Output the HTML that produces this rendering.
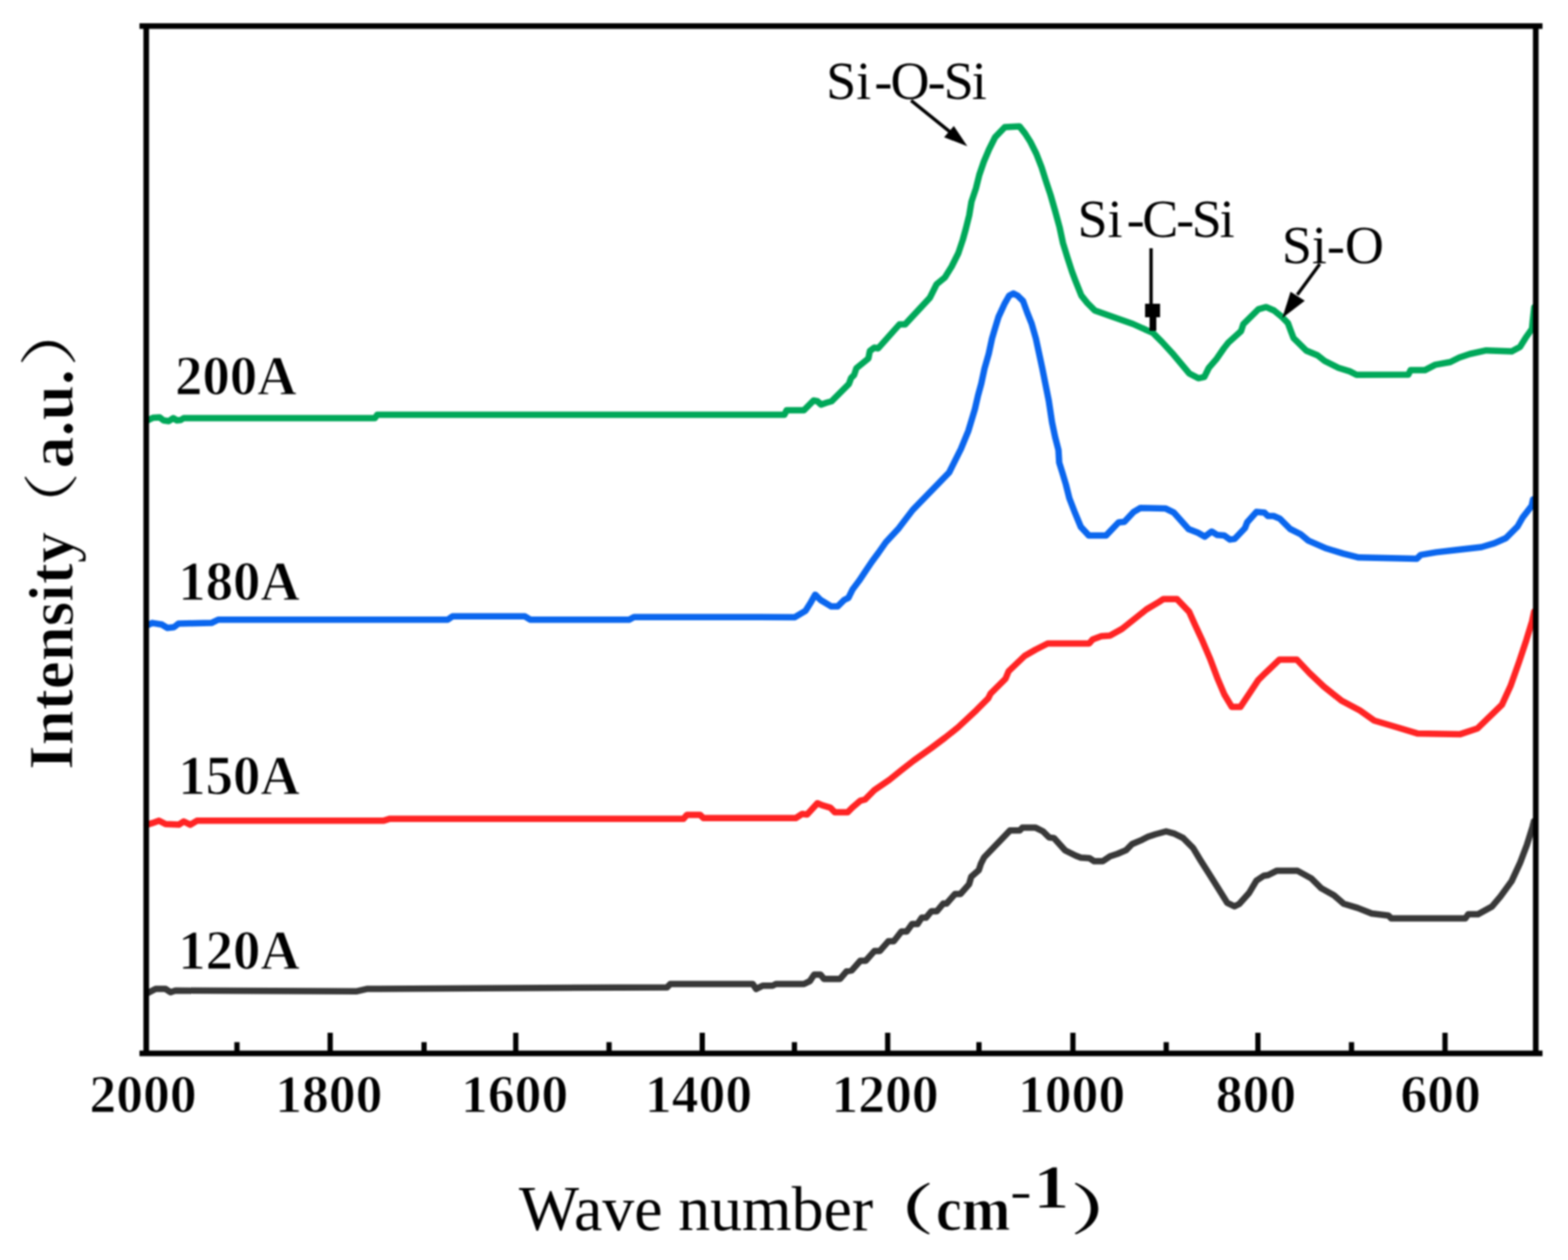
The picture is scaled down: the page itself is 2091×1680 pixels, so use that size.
<!DOCTYPE html>
<html><head><meta charset="utf-8"><title>FTIR spectra</title>
<style>
html,body{margin:0;padding:0;background:#fff;}
svg{display:block;}
#wrap{filter:blur(1px);width:2091px;height:1680px;}
.er{stroke:#fff;stroke-width:1.2px;}
.serif{font-family:"Liberation Serif","Noto Serif CJK SC",serif;}
.cjk{font-family:"Noto Serif CJK SC","Noto Sans CJK SC",serif;}
</style></head>
<body>
<div id="wrap">
<svg width="2091" height="1680" viewBox="0 0 2091 1680">
<rect width="2091" height="1680" fill="#fff"/>
<g fill="none" stroke-linejoin="round" stroke-linecap="round" stroke-width="8.5">
<polyline stroke="#383838" points="196.6,1324.3 207.6,1318.6 220.8,1318.6 227.4,1323 234,1320.8 476,1321.7 489.2,1318.6 889.5,1316.4 893.9,1312 1003.9,1312 1008.3,1318.6 1017.1,1314.2 1030.3,1314.2 1034.7,1312 1072.1,1312 1080,1308.1 1085.7,1299.5 1094.3,1299.5 1098.7,1305.2 1120.2,1305.2 1128.8,1295.2 1136,1293.8 1147.4,1280.9 1154.6,1280.9 1166.1,1268 1173.3,1268 1184.7,1255 1191.9,1255 1202,1242.1 1209.1,1242.1 1216.3,1232.1 1223.5,1232.1 1229.2,1223.5 1235,1223.5 1242.1,1214.9 1249.3,1214.9 1257.9,1204.8 1262.2,1204.8 1273.7,1191.9 1280.9,1191.9 1292.3,1179 1295.2,1169 1305.2,1160.3 1308.1,1151.7 1312.4,1143.1 1346.9,1107.3 1359.8,1107.3 1363.3,1103.6 1381.1,1103.6 1390.9,1108.5 1399,1116.6 1405.5,1117.4 1420.2,1133.7 1434.8,1141 1441.3,1143.4 1452.7,1144.2 1459.2,1148.3 1470.6,1148.3 1480.3,1141.8 1490.1,1138.5 1501.5,1133.7 1509.6,1125.5 1521,1120.7 1530.7,1115.8 1540.5,1112.5 1555.1,1108.5 1566.5,1111.7 1577.9,1117.4 1590.9,1130.4 1600.7,1146.7 1612,1164.6 1620.2,1177.6 1628.3,1190.6 1636.4,1203.6 1646.2,1208.5 1652.7,1205.2 1665.7,1190.6 1675.4,1174.3 1685.2,1167.8 1691.2,1166.7 1702.4,1161.1 1730.4,1161.1 1749,1171.4 1762.1,1184.4 1778.9,1193.8 1791.9,1205 1810.6,1210.6 1829.2,1218 1851.6,1220.8 1855.3,1224.5 1954.2,1224.5 1957.9,1219 1971,1219 1989.6,1208.7 2000.8,1195.6 2015.7,1175.1 2026.9,1150.9 2036.2,1126.6 2043.7,1102.4 2045.6,1094.9"/>
<polyline stroke="#ff2424" points="196,1099.6 203.2,1097.4 212,1094.3 220.8,1098.7 238.4,1099.6 245,1095.2 253.8,1099.6 262.6,1094.3 511.2,1094.3 520,1091.7 911.5,1091.7 916,1086.4 933.5,1086.4 938,1090.8 1061.1,1090.8 1069.9,1085.2 1076.2,1086.1 1090.1,1071 1096.3,1073.7 1107.2,1076.8 1113.3,1083 1130.4,1083 1136.6,1076.8 1147.4,1067.6 1153.6,1066 1166,1053.6 1186.1,1039.7 1201.6,1027.3 1218.6,1014 1241.8,997.5 1260.4,983.5 1277.4,970 1302.2,946.8 1317.7,931.3 1320.8,925.1 1340.9,905 1345,895 1366.5,874.5 1380.9,866.2 1397.2,858 1452.4,858 1457.3,852.4 1468.7,848.3 1480.1,847.5 1496.3,838.5 1512.6,825.5 1528.9,812.5 1545.1,802.8 1551.6,798.7 1569.5,798.7 1585.8,815.8 1593.9,833.7 1603.7,854.8 1613.4,877.6 1623.2,903.6 1632.9,926.3 1642.7,942.6 1654.1,942.6 1667.1,923.1 1677.7,907.1 1687.2,897.6 1706.3,879.4 1729.3,879.4 1746.5,897.6 1765.6,915.7 1788.6,933.9 1813.5,947.3 1832.6,960.7 1861.3,969.3 1890,977.9 1947.4,978.9 1970.3,971.2 2002.9,939.6 2014.3,914.8 2025.8,882.3 2035.4,853.6 2043,828.7 2045.9,815.3"/>
<polyline stroke="#0a66ee" points="196,834 203,830.6 216,832.8 223,837.2 232,836.3 238,831.5 282,830.6 291,826.2 597,826.2 603.5,821.8 700,821.8 707,826.2 839,826.2 845.5,822.7 1060,822.9 1074.3,814.3 1081.4,802.9 1087.1,792.9 1094.3,800 1108.6,808.6 1117.1,808.6 1125.7,800 1131.4,797.1 1137.1,785.7 1145.7,774.3 1154.3,761.4 1162.9,748.6 1171.4,737.1 1181.4,722.9 1198.6,704.3 1217.1,680 1265.7,630 1271.4,618.6 1281.4,598.6 1291.4,574.3 1300,545.7 1304.3,527.1 1308.6,511.4 1312.9,491.4 1318.6,471.4 1322.9,451.4 1327.1,437.1 1331.4,422.9 1340,404.3 1345.7,394.3 1351.4,391.4 1357.1,394.3 1364.3,401.4 1370,417.1 1375.7,431.4 1381.4,451.4 1385.7,471.4 1390,491.4 1394.3,512.9 1398.6,534.3 1402.9,562.9 1407.1,582.9 1411.5,600 1412.5,616.8 1416.8,630.6 1421.4,645.9 1426,664.3 1433.7,684.2 1441.3,702.5 1452,714 1475,714 1491.8,696.4 1499.5,695.7 1511.7,682.6 1520.9,677.3 1554.6,678.1 1565.3,683.4 1585.2,705.6 1597.4,710.2 1606.6,715.5 1615.8,708.7 1623.4,713.3 1632.6,714 1640.3,719.4 1646.4,718.6 1660.2,704.1 1663.2,696.4 1675.5,682.6 1686.2,683.4 1690.8,688 1698.4,688 1706.9,691.7 1720.7,705.4 1734.4,712.3 1744.8,720.9 1768.9,731.3 1791.3,738.1 1811.9,743.3 1889.4,745 1894.6,739.9 1915.2,736.4 1944.5,733 1975.5,729.5 1992.7,724.4 2008.2,717.5 2023.7,702 2030.6,689.9 2042.6,674.4 2044.4,665.8"/>
<polyline stroke="#00a859" points="196,561 204,557 213,556.5 218,560.5 225,561.5 231,557.5 236,560.5 241,560 245,557.5 500,557.5 503,553 1046,553 1049,547 1072,547 1085,534 1090,535 1095,539.5 1102,537 1109,535 1132,512 1135,504 1139,500 1142,491 1158,478 1160,468 1166,463.5 1171,464.5 1199.5,432.5 1207,432.5 1240,397 1249,379 1260,370 1269,355.5 1278,337.5 1284,319.5 1288,305 1292.5,287 1295.5,269 1301.5,251 1306,233 1312,215.5 1319,199 1327,183 1340,169.5 1359.5,168.5 1367,178 1374,189 1382,205 1389,223 1395,242 1401,260 1407,281 1413,303 1417.5,324 1423.5,343.5 1429.5,362 1434,374 1442,394 1450,404 1460,414 1484,422.6 1511,432 1537.6,444 1549.6,456 1563,470.6 1586,498 1598,504.3 1606,502.7 1612,490.5 1622.6,478.2 1632,464.5 1638,456.8 1655,441.5 1658,432.3 1678,412.4 1688.5,409.4 1699,414 1708.4,421.6 1717.5,430.8 1722,443 1725,450.7 1742,467.5 1757,473.7 1766.5,481.3 1785,490.5 1800,495.1 1809,499.7 1878,499.6 1881,493.6 1900,493.6 1914,486.4 1934,482.8 1946,476.8 1960,472 1982,467.2 2016,468.4 2027,462.4 2034.5,450.4 2043,438.4 2044,427.6 2046,409.6"/>
</g>
<g stroke="#000" stroke-width="7.5" fill="none">
<line x1="186" y1="34.7" x2="2057" y2="34.7"/>
<line x1="186" y1="1404.5" x2="2057" y2="1404.5"/>
<line x1="195" y1="31" x2="195" y2="1408"/>
<line x1="2048" y1="31" x2="2048" y2="1408"/>
</g>
<g stroke="#000" stroke-width="7">
<line x1="440.3" y1="1404.5" x2="440.3" y2="1377"/>
<line x1="687.8" y1="1404.5" x2="687.8" y2="1377"/>
<line x1="936.5" y1="1404.5" x2="936.5" y2="1377"/>
<line x1="1183.8" y1="1404.5" x2="1183.8" y2="1377"/>
<line x1="1430.8" y1="1404.5" x2="1430.8" y2="1377"/>
<line x1="1677.5" y1="1404.5" x2="1677.5" y2="1377"/>
<line x1="1927" y1="1404.5" x2="1927" y2="1377"/>
<line x1="316" y1="1404.5" x2="316" y2="1389.5"/>
<line x1="565.5" y1="1404.5" x2="565.5" y2="1389.5"/>
<line x1="812.2" y1="1404.5" x2="812.2" y2="1389.5"/>
<line x1="1059.4" y1="1404.5" x2="1059.4" y2="1389.5"/>
<line x1="1305.5" y1="1404.5" x2="1305.5" y2="1389.5"/>
<line x1="1555.2" y1="1404.5" x2="1555.2" y2="1389.5"/>
<line x1="1802.3" y1="1404.5" x2="1802.3" y2="1389.5"/>
</g>
<g class="serif er" font-weight="bold" font-size="71.5" fill="#000">
<text x="119.3" y="1482.5">2000</text>
<text x="367.1" y="1482.5">1800</text>
<text x="614.7" y="1482.5">1600</text>
<text x="860.0" y="1482.5">1400</text>
<text x="1108.8" y="1482.5">1200</text>
<text x="1357.6" y="1482.5">1000</text>
<text x="1621.2" y="1482.5">800</text>
<text x="1867.6" y="1482.5">600</text>
</g>
<g class="serif er" font-weight="bold" font-size="73" fill="#000">
<text x="233.4" y="526">200A</text>
<text x="237.7" y="799.5">180A</text>
<text x="237.7" y="1059">150A</text>
<text x="237.7" y="1291.5">120A</text>
</g>
<g class="serif" font-size="72" fill="#000">
<text x="1101.7" y="132">Si</text>
<text x="1166" y="132" letter-spacing="-2.5">-O-Si</text>
<text x="1437" y="316">Si</text>
<text x="1502.4" y="316" letter-spacing="-3">-C-Si</text>
<text x="1709.5" y="351">Si-O</text>
</g>
<!-- arrows -->
<g stroke="#000" stroke-width="4.5" fill="#000">
<line x1="1215" y1="134" x2="1272" y2="180"/>
<polygon stroke="none" points="1290,195 1259,183 1272,168"/>
<line x1="1535" y1="331" x2="1535" y2="410"/>
<polygon stroke="none" points="1527,405 1547,405 1547,423 1542,423 1542,441 1533,441 1533,423 1527,423"/>
<line x1="1760" y1="352" x2="1730" y2="393"/>
<polygon stroke="none" points="1710,424 1721,389 1740,401"/>
</g>
<!-- x axis title -->
<g class="serif" fill="#000">
<text x="692" y="1640" font-size="85">Wave number</text>
<text transform="translate(1146,1638.6) scale(1.0,0.727)" font-size="100" font-weight="bold" class="cjk">（</text>
<text class="er" transform="translate(1248,1640) scale(0.94,1)" font-size="83" font-weight="bold">cm</text>
<text transform="translate(1347.3,1610) scale(1,0.75)" font-size="85">-</text>
<text class="er" transform="translate(1377.8,1609.5) scale(1.18,1)" font-size="82" font-weight="bold">1</text>
<text transform="translate(1427,1638.6) scale(1.05,0.727)" font-size="100" font-weight="bold" class="cjk">）</text>
</g>
<!-- y axis title (rotated) -->
<g transform="translate(97,1026.5) rotate(-90)" class="serif" fill="#000">
<text class="er" x="0" y="0" font-size="84" font-weight="bold">Intensity</text>
<text transform="translate(305.6,-2.4) scale(0.915,0.74)" font-size="100" class="cjk">（</text>
<text class="er" x="402" y="0" font-size="85" font-weight="bold">a.u.</text>
<text transform="translate(537,-2.7) scale(1.0,0.774)" font-size="100" class="cjk">）</text>
</g>
</svg>
</div>
</body></html>
